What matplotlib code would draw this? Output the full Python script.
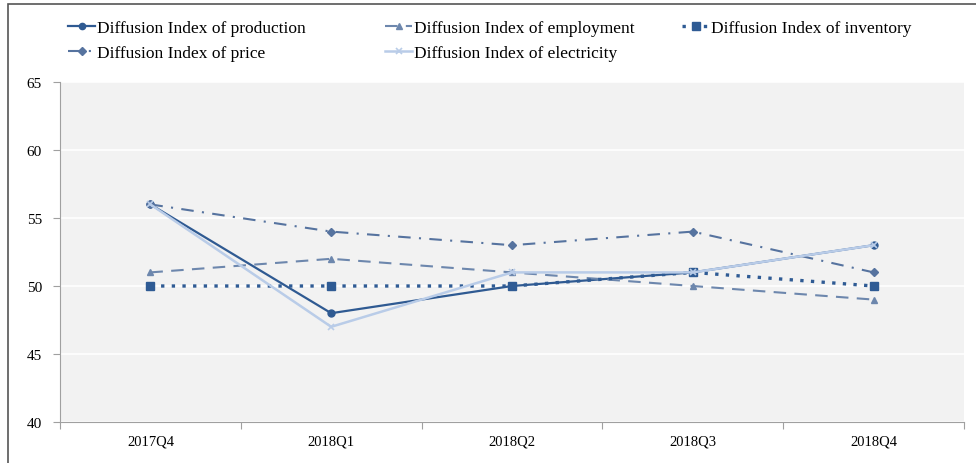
import numpy as np
import matplotlib
matplotlib.use("Agg")
import matplotlib.pyplot as plt
from matplotlib.patches import Rectangle

plt.rcParams["font.family"] = ["Liberation Serif", "DejaVu Serif"]

quarters = ["2017Q4", "2018Q1", "2018Q2", "2018Q3", "2018Q4"]

production = [56, 48, 50, 51, 53]
employment = [51, 52, 51, 50, 49]
inventory = [50, 50, 50, 51, 50]
price = [56, 54, 53, 54, 51]
electricity = [56, 47, 51, 51, 53]

x = np.arange(len(quarters))

fig = plt.figure(figsize=(9.76, 4.64), dpi=100)
ax = fig.add_axes([60 / 976, 1 - 423 / 464, 904 / 976, 340 / 464])
ax.set_facecolor("#f2f2f2")

l1, = ax.plot(x, production, color="#2f5a92", lw=1.6, marker="o", ms=5,
              label="Diffusion Index of production")
l2, = ax.plot(x, employment, color="#6d87ad", lw=1.5, ls=(0, (6, 4)),
              marker="^", ms=5, label="Diffusion Index of employment")
l3, = ax.plot(x, inventory, color="#2f5b94", lw=2.4, ls=(0, (1, 2.2)),
              marker="s", ms=6, label="Diffusion Index of inventory")
l4, = ax.plot(x, price, color="#56739f", lw=1.5, ls=(0, (6, 4, 1, 4)),
              marker="D", ms=4, label="Diffusion Index of price")
l5, = ax.plot(x, electricity, color="#b9cce8", lw=1.8, marker="x", ms=5,
              mew=1.2, label="Diffusion Index of electricity")

ax.set_xlim(-0.5, len(quarters) - 0.5)
ax.set_ylim(40, 65)
ax.set_yticks([40, 45, 50, 55, 60, 65])
ax.yaxis.grid(True, color="white", lw=1.2)
ax.set_axisbelow(True)

ax.set_xticks(np.arange(len(quarters) + 1) - 0.5)
ax.set_xticklabels([])
ax.set_xticks(x, minor=True)
ax.set_xticklabels(quarters, minor=True)
ax.tick_params(axis="x", which="minor", length=0, pad=9, labelsize=10.5)
ax.tick_params(axis="x", which="major", length=5, color="#a0a0a0")
ax.tick_params(axis="y", length=5, color="#a0a0a0", labelsize=11, pad=8)

for s in ["top", "right"]:
    ax.spines[s].set_visible(False)
for s in ["left", "bottom"]:
    ax.spines[s].set_color("#a0a0a0")

# one legend per column, so each column sits where it does in the original
legend_cols = [([l1, l4], 52), ([l2, l5], 369), ([l3], 666)]
for handles, left in legend_cols:
    fig.legend(handles=handles, loc="upper left",
               bbox_to_anchor=(left / 976, 1 - 5 / 464), frameon=False,
               fontsize=12.5, handlelength=1.6, handletextpad=0.1,
               labelspacing=0.52, markerscale=0.9)

fig.patches.append(Rectangle((8 / 976, -0.1), 1.2, 1 - 5 / 464 + 0.1,
                             transform=fig.transFigure, fill=False,
                             edgecolor="#555555", lw=1.2))

fig.savefig("out.png", dpi=100)
